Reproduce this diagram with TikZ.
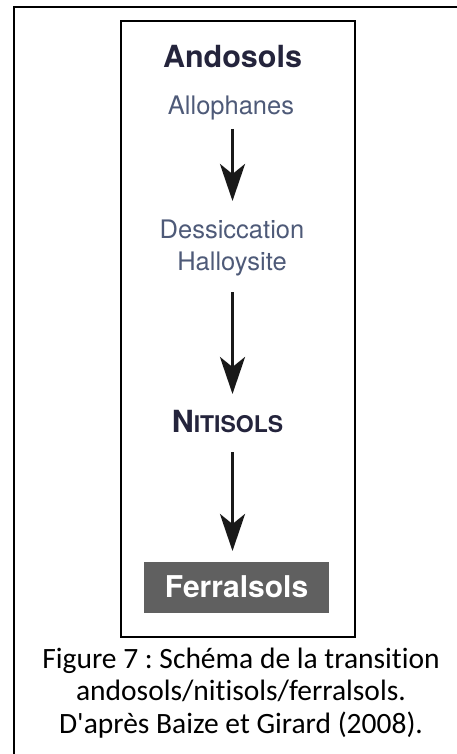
\documentclass[tikz,border=0pt]{standalone}
\usepackage{fontspec}
\setmainfont{Carlito}
\newfontfamily\capfont[Ligatures=NoCommon]{Carlito}
\newfontfamily\helv{TeX Gyre Heros}
\usetikzlibrary{arrows.meta}
\definecolor{navy}{HTML}{24243C}
\definecolor{grayblue}{HTML}{4E5A78}
\definecolor{boxgray}{HTML}{606060}
\frenchspacing
\begin{document}
\begin{tikzpicture}[x=1pt,y=-1pt,
  lbl/.style={font=\helv\fontsize{25.5}{30}\selectfont, text=grayblue, inner sep=0pt, anchor=base},
  title/.style={font=\helv\bfseries\fontsize{30.5}{34}\selectfont, text=navy, inner sep=0pt, anchor=base},
  captxt/.style={font=\capfont\fontsize{29.5}{32}\selectfont, inner sep=0pt, anchor=base},
  flow/.style={line width=3.4pt, -{Stealth[length=37pt,width=25pt,inset=10pt]}, black!90}]
\useasboundingbox (0,0) rectangle (457,754);
\begin{scope}
\clip (0,0) rectangle (457,754);
\draw[line width=2.2pt] (14,7) rectangle (490,790);
\end{scope}
\draw[line width=2pt] (121,21) rectangle (355,637);
\node[title] (ando) at (232.5,67.5) {Andosols};
\node[lbl] (allo) at (231,115) {Allophanes};
\node[lbl] (dess) at (232,238.5) {Dessiccation};
\node[lbl] (hall) at (232,270) {Halloysite};
\node[title] (niti) at (227.5,432) {N{\fontsize{23}{26}\selectfont ITISOLS}};
\node[fill=boxgray, minimum width=185pt, minimum height=51pt, inner sep=0pt] (ferr) at (236.5,587.5) {};
\node[font=\helv\bfseries\fontsize{30}{34}\selectfont, text=white, inner sep=0pt, anchor=base] (ferrt) at (236.5,597) {Ferralsols};
\coordinate (a1s) at (232.5,129); \coordinate (a1e) at (232.5,201);
\coordinate (a2s) at (232.5,292); \coordinate (a2e) at (232.5,394);
\coordinate (a3s) at (232.5,452); \coordinate (a3e) at (232.5,551);
\draw[flow] (a1s) -- (a1e);
\draw[flow] (a2s) -- (a2e);
\draw[flow] (a3s) -- (a3e);
\node[captxt] (cap1) at (241,668) {Figure 7 : Schéma de la transition};
\node[captxt] (cap2) at (241,700.5) {andosols/nitisols/ferralsols.};
\node[captxt] (cap3) at (241,733) {D'après Baize et Girard (2008).};
\end{tikzpicture}
\end{document}
